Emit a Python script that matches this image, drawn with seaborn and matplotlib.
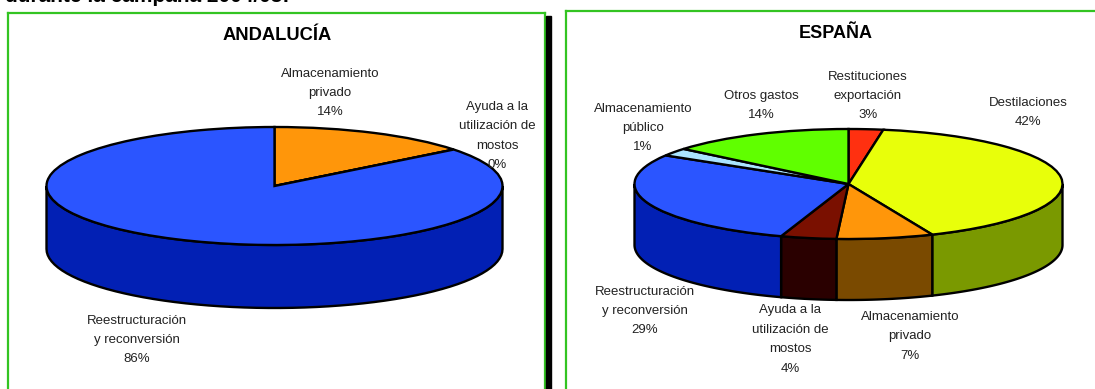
import matplotlib

matplotlib.use("Agg")

import matplotlib.pyplot as plt
import numpy as np
import seaborn as sns

WIDTH, HEIGHT = 1095, 389

# slice shares as drawn, clockwise from 12 o'clock
andalucia_labels = [
    "Almacenamiento\nprivado\n14%",
    "Ayuda a la\nutilización de\nmostos\n0%",
    "Reestructuración\ny reconversión\n86%",
]
andalucia_shares = [14.4, 0.0, 85.6]
andalucia_top = ["#ff960a", "#7a1000", "#2b55ff"]
andalucia_side = ["#7a4a00", "#2a0000", "#0220b4"]

espana_labels = [
    "Restituciones\nexportación\n3%",
    "Destilaciones\n42%",
    "Almacenamiento\nprivado\n7%",
    "Ayuda a la\nutilización de\nmostos\n4%",
    "Reestructuración\ny reconversión\n29%",
    "Almacenamiento\npúblico\n1%",
    "Otros gastos\n14%",
]
espana_shares = [2.6, 41.0, 7.3, 4.2, 28.6, 2.3, 14.0]
espana_top = ["#ff3010", "#e8ff0a", "#ff960a", "#7a1000", "#2b55ff", "#aae4ff", "#60ff00"]
espana_side = ["#7a1808", "#7a9900", "#7a4a00", "#2a0000", "#0220b4", "#5572aa", "#308000"]

FRAME_GREEN = "#33c422"


def draw_pie(fig, box, centre, radii, depth, shares, top, side):
    left, top_px, right, bottom_px = box
    cx, cy = centre
    rx, ry = radii
    ax = fig.add_axes([left / WIDTH, 1 - bottom_px / HEIGHT, (right - left) / WIDTH, (bottom_px - top_px) / HEIGHT])
    h = depth / ry

    # side wall, only the part of each slice that faces the viewer
    edges = np.cumsum([0] + shares) / 100 * 360
    for start, stop, colour in zip(edges[:-1], edges[1:], side):
        a, b = max(start, 90), min(stop, 270)
        if b <= a:
            continue
        t = np.radians(np.linspace(a, b, 60))
        x, y = np.sin(t), np.cos(t)
        ax.fill(np.r_[x, x[::-1]], np.r_[y, y[::-1] - h], facecolor=colour, edgecolor="black", linewidth=1.7, zorder=1)

    ax.pie(
        shares,
        colors=top,
        startangle=90,
        counterclock=False,
        frame=True,
        wedgeprops={"edgecolor": "black", "linewidth": 1.7, "zorder": 2},
    )
    ax.set_aspect("auto")
    ax.set_xlim((left - cx) / rx, (right - cx) / rx)
    ax.set_ylim((cy - bottom_px) / ry, (cy - top_px) / ry)
    ax.set_xticks([])
    ax.set_yticks([])
    ax.set_facecolor("white")
    for spine in ax.spines.values():
        spine.set_color(FRAME_GREEN)
        spine.set_linewidth(1.6)
    return ax


def label(fig, x, y, text, **kwargs):
    fig.text(x / WIDTH, 1 - y / HEIGHT, text, ha="center", va="center", **kwargs)


def main():
    sns.set_theme(style="white")
    plt.rcParams["font.family"] = ["Liberation Sans", "DejaVu Sans"]
    fig = plt.figure(figsize=(WIDTH / 100, HEIGHT / 100), dpi=100, facecolor="white")

    # black shadow bar next to the left frame
    fig.patches.append(plt.Rectangle((546 / WIDTH, 0), 4.5 / WIDTH, 1 - 16 / HEIGHT, transform=fig.transFigure, color="black"))

    draw_pie(fig, (8, 13, 545, 400), (274.5, 186), (228, 59), 63, andalucia_shares, andalucia_top, andalucia_side)
    draw_pie(fig, (566, 11, 1110, 400), (848.5, 184), (214, 55), 61, espana_shares, espana_top, espana_side)

    # heading runs off the top of the picture, same as the source
    fig.text(5 / WIDTH, 1 - 1.5 / HEIGHT, "durante la campaña 2004/05:", ha="left", va="baseline", fontsize=15, fontweight="bold", color="black")
    label(fig, 277, 36, "ANDALUCÍA", fontsize=13.2, fontweight="bold", color="black")
    label(fig, 836, 34, "ESPAÑA", fontsize=13, fontweight="bold", color="black")

    text_style = {"fontsize": 9.5, "color": "#222222", "linespacing": 1.82}
    for text, (x, y) in zip(andalucia_labels, [(330, 93), (497, 136), (137, 340)]):
        label(fig, x, y, text, **text_style)
    espana_pos = [(868, 96), (1028, 112.5), (910, 336.5), (790, 339.5), (645, 311), (643, 128), (761, 105.5)]
    for text, (x, y) in zip(espana_labels, espana_pos):
        label(fig, x, y, text, **text_style)

    fig.savefig("out.png", dpi=100)
    plt.close(fig)


if __name__ == "__main__":
    main()
